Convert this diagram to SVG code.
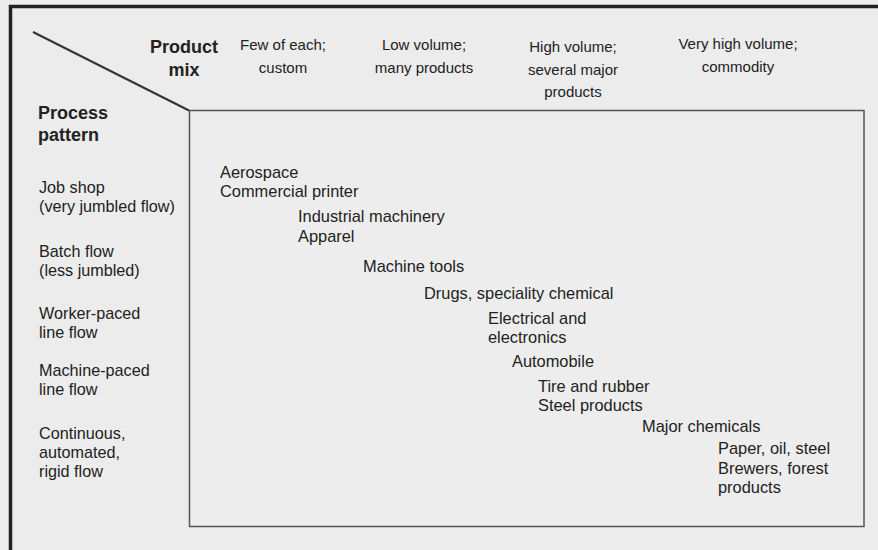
<svg xmlns="http://www.w3.org/2000/svg" width="878" height="550" viewBox="0 0 878 550">
<style>
text{font-family:"Liberation Sans",Arial,sans-serif;fill:#222;}
.h{font-size:15px;text-anchor:middle;}
.b{font-size:18px;font-weight:bold;}
.l{font-size:16.2px;}
.i{font-size:16.4px;}
</style>
<rect x="0" y="0" width="878" height="550" fill="#ececec"/>
<path d="M10.5,550 V6.5 H878" fill="none" stroke="#222" stroke-width="3.5"/>
<line x1="33" y1="32" x2="189" y2="110.5" stroke="#333" stroke-width="2"/>
<rect x="189.5" y="110.5" width="674.5" height="416" fill="#ededed" stroke="#555" stroke-width="1.5"/>
<g id="header">
<text class="b" x="184" y="53" text-anchor="middle">Product</text>
<text class="b" x="184" y="76" text-anchor="middle">mix</text>
<text class="h" x="283" y="50">Few of each;</text>
<text class="h" x="283" y="73">custom</text>
<text class="h" x="424" y="50">Low volume;</text>
<text class="h" x="424" y="73">many products</text>
<text class="h" x="573" y="52">High volume;</text>
<text class="h" x="573" y="75">several major</text>
<text class="h" x="573" y="97">products</text>
<text class="h" x="738" y="49">Very high volume;</text>
<text class="h" x="738" y="72">commodity</text>
</g>
<g id="rows">
<text class="b" x="38" y="119">Process</text>
<text class="b" x="38" y="141">pattern</text>
<text class="l" x="39" y="193">Job shop</text>
<text class="l" x="39" y="212">(very jumbled flow)</text>
<text class="l" x="39" y="257">Batch flow</text>
<text class="l" x="39" y="276">(less jumbled)</text>
<text class="l" x="39" y="319">Worker-paced</text>
<text class="l" x="39" y="338">line flow</text>
<text class="l" x="39" y="376">Machine-paced</text>
<text class="l" x="39" y="395">line flow</text>
<text class="l" x="39" y="439">Continuous,</text>
<text class="l" x="39" y="458">automated,</text>
<text class="l" x="39" y="477">rigid flow</text>
</g>
<g id="industries">
<text class="i" x="220" y="178">Aerospace</text>
<text class="i" x="220" y="197">Commercial printer</text>
<text class="i" x="298" y="222">Industrial machinery</text>
<text class="i" x="298" y="242">Apparel</text>
<text class="i" x="363" y="272">Machine tools</text>
<text class="i" x="424" y="299">Drugs, speciality chemical</text>
<text class="i" x="488" y="324">Electrical and</text>
<text class="i" x="488" y="343">electronics</text>
<text class="i" x="512" y="367">Automobile</text>
<text class="i" x="538" y="392">Tire and rubber</text>
<text class="i" x="538" y="411">Steel products</text>
<text class="i" x="642" y="432">Major chemicals</text>
<text class="i" x="718" y="454">Paper, oil, steel</text>
<text class="i" x="718" y="474">Brewers, forest</text>
<text class="i" x="718" y="493">products</text>
</g>
</svg>
